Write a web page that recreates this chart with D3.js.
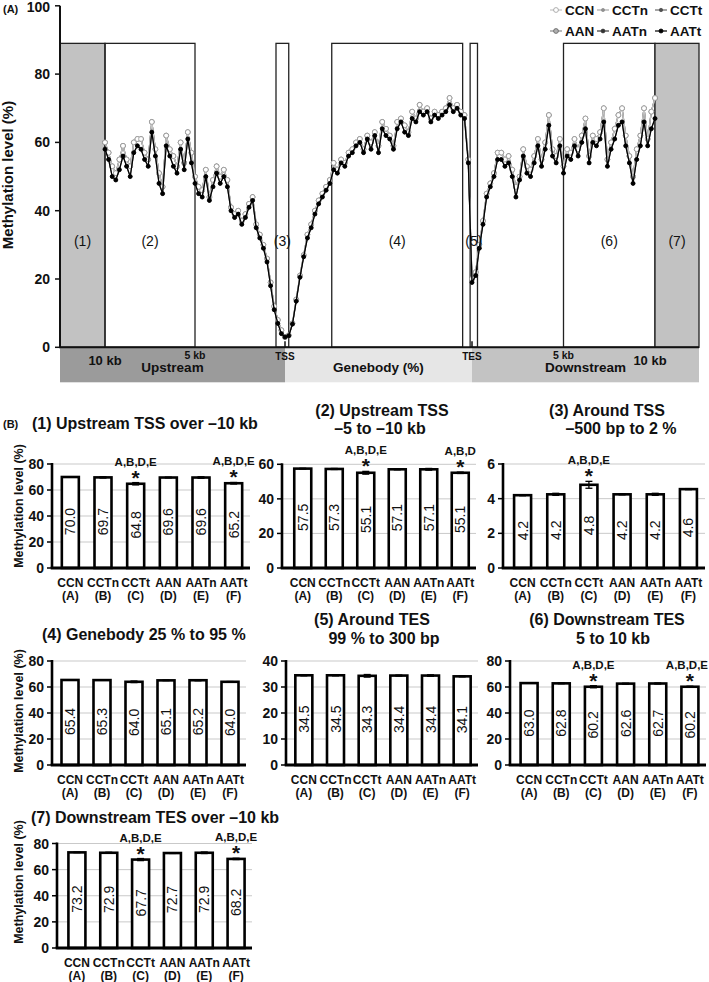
<!DOCTYPE html>
<html><head><meta charset="utf-8">
<script src="https://cdn.jsdelivr.net/npm/d3@7"></script>
<style>
body{margin:0;background:#fff}
svg{display:block}
text{font-family:"Liberation Sans",Arial,Helvetica,sans-serif;fill:#111}
</style>
</head><body>
<svg id="c" width="709" height="982"></svg>
<script>
// ---------------- DATA ----------------
const seriesNames = ["CCN","CCTn","CCTt","AAN","AATn","AATt"];
const groupLetters = ["(A)","(B)","(C)","(D)","(E)","(F)"];

// Panel A profiles (methylation %), sampled every 0.2 kb upstream, 2 % genebody, 0.2 kb downstream
const upstreamNormal = [60,57,53,51,55,59,55,53,60,61,61,57,55,66,58,51,47,62,58,56,53,60,54,63,57,50,47,46,52,44,49,53,50,52,49,41,39,40,37,39,42,44,36,33,30,26,19,12,8,5];
const genebodyNormal = [3,3.5,7,14,21,27,33,36,40,43,45,47,49,54,52,55,54,57,58,60,61,58,62,60,63,59,66,64,62,59,66,67,65,63,69,67,71,69,70,67,69,68,69,70,73,70,71,69,68,55];
const downstreamNormal = [20,22,30,37,45,48,51,57,57,55,56,52,47,50,58,53,52,56,61,55,60,68,58,56,61,53,58,57,61,58,62,67,56,62,61,63,70,55,60,64,68,70,62,56,50,58,62,70,61,69,73];
const upstreamTumor = [58,55,50,49,52,56,53,50,57,59,58,55,53,63,56,48,45,59,56,53,51,58,52,61,54,48,45,44,50,43,47,51,48,50,47,40,38,39,36,38,41,43,35,32,29,25,18,11,7,4];
const genebodyTumor = [3,3.4,6.8,13.5,20.5,26.5,32,35,39,42,44,46,48,52,51,54,53,56,57,59,60,57,61,58,62,57,64,62,61,58,64,66,63,62,67,66,69,68,69,66,68,67,68,69,71,69,70,68,67,54];
const downstreamTumor = [19,21,29,36,44,47,50,55,55,53,54,50,44,49,56,51,50,54,59,53,58,65,56,54,59,51,56,55,59,56,60,64,54,60,59,61,66,53,58,61,65,66,59,54,48,55,59,66,59,64,67];
const seriesProfile = {CCN:"normal",CCTn:"normal",CCTt:"tumor",AAN:"normal",AATn:"normal",AATt:"tumor"};

const yTicksA = [0,20,40,60,80,100];
const regionLabels = ["(1)","(2)","(3)","(4)","(5)","(6)","(7)"];
const regionStart = [-2.5, 0, 9.5, 12.5, 19.9, 25, 30];   // position units: upstream kb+10, genebody 10+%/10, downstream 20+kb
const regionEnd   = [0, 5, 10.2, 19.5, 20.3, 30, 32.4];
const regionTop = 89;
const sectionNames = ["Upstream","Genebody (%)","Downstream"];
const sectionStart = [-2.5, 10, 20];
const sectionEnd = [10, 20, 32.4];
const posTickLabels = ["10 kb","5 kb","TSS","TES","5 kb","10 kb"];
const posTickValues = [0, 5, 10, 20, 25, 30];

// Panel B
const barTitles = [
  ["(1)  Upstream TSS over \u201310 kb"],
  ["(2) Upstream TSS","\u20135 to \u201310 kb"],
  ["(3) Around TSS","\u2013500 bp to 2 %"],
  ["(4) Genebody 25 % to 95 %"],
  ["(5) Around TES","99 % to 300 bp"],
  ["(6) Downstream TES","5 to 10 kb"],
  ["(7) Downstream TES over \u201310 kb"]
];
const barValues = [
  [70.0,69.7,64.8,69.6,69.6,65.2],
  [57.5,57.3,55.1,57.1,57.1,55.1],
  [4.2,4.25,4.8,4.25,4.25,4.55],
  [65.4,65.3,64.0,65.1,65.2,64.0],
  [34.5,34.5,34.3,34.4,34.4,34.1],
  [63.0,62.8,60.2,62.6,62.7,60.2],
  [73.2,72.9,67.7,72.7,72.9,68.2]
];
const barLabels = [
  ["70.0","69.7","64.8","69.6","69.6","65.2"],
  ["57.5","57.3","55.1","57.1","57.1","55.1"],
  ["4.2","4.2","4.8","4.2","4.2","4.6"],
  ["65.4","65.3","64.0","65.1","65.2","64.0"],
  ["34.5","34.5","34.3","34.4","34.4","34.1"],
  ["63.0","62.8","60.2","62.6","62.7","60.2"],
  ["73.2","72.9","67.7","72.7","72.9","68.2"]
];
const barErrors = [
  [0.2,0.5,0.9,0.3,0.6,0.6],
  [0.2,0.3,0.8,0.3,0.5,0.4],
  [0.03,0.06,0.2,0.03,0.06,0.03],
  [0.2,0.2,0.6,0.2,0.4,0.2],
  [0.2,0.2,0.5,0.2,0.3,0.2],
  [0.2,0.3,0.8,0.3,0.4,0.4],
  [0.2,0.4,0.8,0.3,0.6,0.5]
];
const barSig = [
  [null,null,"A,B,D,E",null,null,"A,B,D,E"],
  [null,null,"A,B,D,E",null,null,"A,B,D"],
  [null,null,"A,B,D,E",null,null,null],
  [null,null,null,null,null,null],
  [null,null,null,null,null,null],
  [null,null,"A,B,D,E",null,null,"A,B,D,E"],
  [null,null,"A,B,D,E",null,null,"A,B,D,E"]
];
const barYMax = [80,60,6,80,40,80,80];
const barYStep = [20,20,2,20,10,20,20];

// ---------------- DRAW ----------------
const svg = d3.select("#c");
const W = 709;

// ===== Panel A =====
const xA = d3.scaleLinear().domain([-2.5,0,10,20,30,32.4]).range([60,105,285,472,655,699]);
const yA = d3.scaleLinear().domain([0,100]).range([347.3,5.8]);

svg.append("text").attr("x",3).attr("y",13).attr("font-size",11).attr("font-weight","bold").text("(A)");

// bottom band
const bandG = svg.append("g");
const sectionFill = ["#9b9b9b","#e6e6e6","#c3c3c3"];
sectionNames.forEach((n,i)=>{
  bandG.append("rect").attr("x",xA(sectionStart[i])).attr("y",yA(0))
    .attr("width",xA(sectionEnd[i])-xA(sectionStart[i])).attr("height",35).attr("fill",sectionFill[i]);
  bandG.append("text").attr("x",(xA(sectionStart[i])+xA(sectionEnd[i]))/2).attr("y",372)
    .attr("text-anchor","middle").attr("font-size",13.5).attr("font-weight","bold").text(n);
});
posTickLabels.forEach((t,i)=>{
  const big = t==="10 kb", small = (t==="TSS"||t==="TES");
  bandG.append("text").attr("x",xA(posTickValues[i]) - (i===5?5:0)).attr("y",big?365:(small?360:358.5))
    .attr("text-anchor","middle").attr("font-size",big?13:(small?10:10.5)).attr("font-weight","bold").text(t);
});

// region boxes
regionLabels.forEach((lab,i)=>{
  const gray = (i===0||i===6);
  svg.append("rect").attr("x",xA(regionStart[i])).attr("y",yA(regionTop))
    .attr("width",xA(regionEnd[i])-xA(regionStart[i])).attr("height",yA(0)-yA(regionTop))
    .attr("fill",gray?"#c2c2c2":"none").attr("stroke","#222").attr("stroke-width",1.3);
});

// profiles
function buildProfile(up,gb,dn){
  return up.map((v,i)=>({p:i*0.2,v}))
    .concat(gb.map((v,j)=>({p:10+j*0.2,v})))
    .concat(dn.map((v,k)=>({p:20+k*0.2,v})));
}
const profiles = {
  normal: buildProfile(upstreamNormal,genebodyNormal,downstreamNormal),
  tumor: buildProfile(upstreamTumor,genebodyTumor,downstreamTumor)
};
const seriesStyle = {
  CCN:{stroke:"#c4c4c4",r:2.4,fill:"#ffffff",ms:"#9a9a9a"},
  CCTn:{stroke:"#a8a8a8",r:1.6,fill:"#909090",ms:"#909090"},
  CCTt:{stroke:"#6a6a6a",r:1.7,fill:"#505050",ms:"#505050"},
  AAN:{stroke:"#8c8c8c",r:2.4,fill:"#b0b0b0",ms:"#606060"},
  AATn:{stroke:"#3a3a3a",r:1.9,fill:"#333",ms:"#333"},
  AATt:{stroke:"#000",r:2,fill:"#000",ms:"#000"}
};
const drawOrder = ["AATn","CCTn","AAN","CCN","CCTt","AATt"];
const lineA = d3.line().x(d=>xA(d.p)).y(d=>yA(d.v));
drawOrder.forEach(name=>{
  const st = seriesStyle[name];
  const data = profiles[seriesProfile[name]];
  const g = svg.append("g");
  g.append("path").datum(data).attr("d",lineA).attr("fill","none").attr("stroke",st.stroke).attr("stroke-width",1.2);
  g.selectAll("circle").data(data).join("circle")
    .attr("cx",d=>xA(d.p)).attr("cy",d=>yA(d.v)).attr("r",st.r)
    .attr("fill",st.fill).attr("stroke",st.ms).attr("stroke-width",0.8);
});

// region labels
regionLabels.forEach((lab,i)=>{
  svg.append("text").attr("x",(xA(regionStart[i])+xA(regionEnd[i]))/2).attr("y",yA(31))
    .attr("dy","0.35em").attr("text-anchor","middle").attr("font-size",14).attr("fill","#222").text(lab);
});

// axes A
const axA = svg.append("g");
axA.append("line").attr("x1",60).attr("x2",60).attr("y1",yA(100)).attr("y2",yA(0)).attr("stroke","#111").attr("stroke-width",2);
axA.append("line").attr("x1",59).attr("x2",699).attr("y1",yA(0)).attr("y2",yA(0)).attr("stroke","#111").attr("stroke-width",2);
yTicksA.forEach(t=>{
  axA.append("line").attr("x1",55).attr("x2",60).attr("y1",yA(t)).attr("y2",yA(t)).attr("stroke","#111").attr("stroke-width",1.5);
  axA.append("text").attr("x",50).attr("y",Math.max(yA(t),7)).attr("dy","0.36em").attr("text-anchor","end")
    .attr("font-size",14).attr("font-weight","bold").text(t);
});
[10,20].forEach(p=>{
  axA.append("line").attr("x1",xA(p)).attr("x2",xA(p)).attr("y1",yA(0)-6).attr("y2",yA(0)).attr("stroke","#111").attr("stroke-width",1.5);
});
svg.append("text").attr("transform","translate(13,175) rotate(-90)").attr("text-anchor","middle")
  .attr("font-size",15).attr("font-weight","bold").text("Methylation level (%)");

// legend
const legX = [550,597,655], legY = [10,31];
seriesNames.forEach((n,i)=>{
  const st = seriesStyle[n];
  const lx = legX[i%3], ly = legY[Math.floor(i/3)];
  svg.append("line").attr("x1",lx).attr("x2",lx+12).attr("y1",ly).attr("y2",ly).attr("stroke",st.stroke).attr("stroke-width",1.2);
  svg.append("circle").attr("cx",lx+6).attr("cy",ly).attr("r",st.r).attr("fill",st.fill).attr("stroke",st.ms).attr("stroke-width",0.8);
  svg.append("text").attr("x",lx+15).attr("y",ly).attr("dy","0.36em").attr("font-size",13.5).attr("font-weight","bold").text(n);
});

// ===== Panel B =====
svg.append("text").attr("x",3).attr("y",428).attr("font-size",11).attr("font-weight","bold").text("(B)");

const layout = [
  {axisX:52, x0:54, x1:250, base:568, top:464, titles:[{x:32,y:429,a:"start"}], ylab:{x:23,y:506}},
  {axisX:282, x0:287, x1:476, base:568, top:464.3, titles:[{x:382,y:416,a:"middle"},{x:380,y:434,a:"middle"}]},
  {axisX:503, x0:506, x1:705, base:568, top:464, titles:[{x:607,y:416,a:"middle"},{x:621,y:434,a:"middle"}]},
  {axisX:52, x0:54, x1:246, base:765, top:661, titles:[{x:42,y:640,a:"start"}], ylab:{x:23,y:711}},
  {axisX:286, x0:288, x1:478, base:765, top:661, titles:[{x:372,y:625,a:"middle"},{x:384,y:644,a:"middle"}]},
  {axisX:510, x0:513, x1:706, base:765, top:661, titles:[{x:607,y:625,a:"middle"},{x:613,y:644,a:"middle"}]},
  {axisX:57, x0:61, x1:252, base:948, top:843.5, titles:[{x:31,y:823,a:"start"}], ylab:{x:23,y:882}}
];

barValues.forEach((vals,ci)=>{
  const L = layout[ci];
  const g = svg.append("g");
  const x = d3.scaleBand().domain(seriesNames).range([L.x0,L.x1]).padding(0);
  const y = d3.scaleLinear().domain([0,barYMax[ci]]).range([L.base,L.top]);
  const ticks = d3.range(0,barYMax[ci]+barYStep[ci]/2,barYStep[ci]);
  const bw = 17;
  // grid
  ticks.filter(t=>t>0).forEach(t=>{
    g.append("line").attr("x1",L.axisX).attr("x2",L.x1).attr("y1",y(t)).attr("y2",y(t)).attr("stroke","#c9c9c9").attr("stroke-width",1);
  });
  // bars
  seriesNames.forEach((n,i)=>{
    const cx = x(n)+x.bandwidth()/2;
    const v = vals[i], e = barErrors[ci][i];
    g.append("rect").attr("x",cx-bw/2).attr("y",y(v)).attr("width",bw).attr("height",L.base-y(v))
      .attr("fill","#fff").attr("stroke","#000").attr("stroke-width",2.6);
    // error bar
    g.append("line").attr("x1",cx).attr("x2",cx).attr("y1",y(v+e)).attr("y2",y(v-e)).attr("stroke","#000").attr("stroke-width",1.3);
    g.append("line").attr("x1",cx-3.5).attr("x2",cx+3.5).attr("y1",y(v+e)).attr("y2",y(v+e)).attr("stroke","#000").attr("stroke-width",1.3);
    g.append("line").attr("x1",cx-3.5).attr("x2",cx+3.5).attr("y1",y(v-e)).attr("y2",y(v-e)).attr("stroke","#000").attr("stroke-width",1.3);
    // value label
    const mid = (y(v)+L.base)/2 - 1;
    g.append("text").attr("transform",`translate(${cx},${mid}) rotate(-90)`).attr("text-anchor","middle")
      .attr("dy","0.36em").attr("font-size",14).attr("fill","#000").text(barLabels[ci][i]);
    // significance
    const s = barSig[ci][i];
    if(s){
      const et = y(v+e);
      g.append("text").attr("x",cx).attr("y",et+2).attr("text-anchor","middle").attr("font-size",21).attr("font-weight","bold").text("*");
      const an = g.append("text").attr("x",cx).attr("y",et-17).attr("text-anchor","middle").attr("font-size",11.5).attr("font-weight","bold").text(s);
      const w = an.node().getComputedTextLength();
      if(cx + w/2 > W - 1) an.attr("x", W - 1 - w/2);
    }
    // category labels
    g.append("text").attr("x",cx).attr("y",L.base+19).attr("text-anchor","middle").attr("font-size",12).attr("font-weight","bold").text(n);
    g.append("text").attr("x",cx).attr("y",L.base+32).attr("text-anchor","middle").attr("font-size",12).attr("font-weight","bold").text(groupLetters[i]);
  });
  // axes
  g.append("line").attr("x1",L.axisX).attr("x2",L.axisX).attr("y1",L.top-1).attr("y2",L.base).attr("stroke","#000").attr("stroke-width",2.6);
  g.append("line").attr("x1",L.axisX-1.3).attr("x2",L.x1).attr("y1",L.base).attr("y2",L.base).attr("stroke","#000").attr("stroke-width",2.8);
  ticks.forEach(t=>{
    g.append("line").attr("x1",L.axisX-5).attr("x2",L.axisX).attr("y1",y(t)).attr("y2",y(t)).attr("stroke","#000").attr("stroke-width",1.5);
    g.append("text").attr("x",L.axisX-8).attr("y",y(t)).attr("dy","0.36em").attr("text-anchor","end")
      .attr("font-size",14).attr("font-weight","bold").text(t);
  });
  // titles
  barTitles[ci].forEach((t,k)=>{
    const p = L.titles[k];
    g.append("text").attr("x",p.x).attr("y",p.y).attr("text-anchor",p.a).attr("font-size",16).attr("font-weight","bold").text(t);
  });
  if(L.ylab){
    g.append("text").attr("transform",`translate(${L.ylab.x},${L.ylab.y}) rotate(-90)`).attr("text-anchor","middle")
      .attr("font-size",12.5).attr("font-weight","bold").text("Methylation level (%)");
  }
});
</script>
</body></html>
